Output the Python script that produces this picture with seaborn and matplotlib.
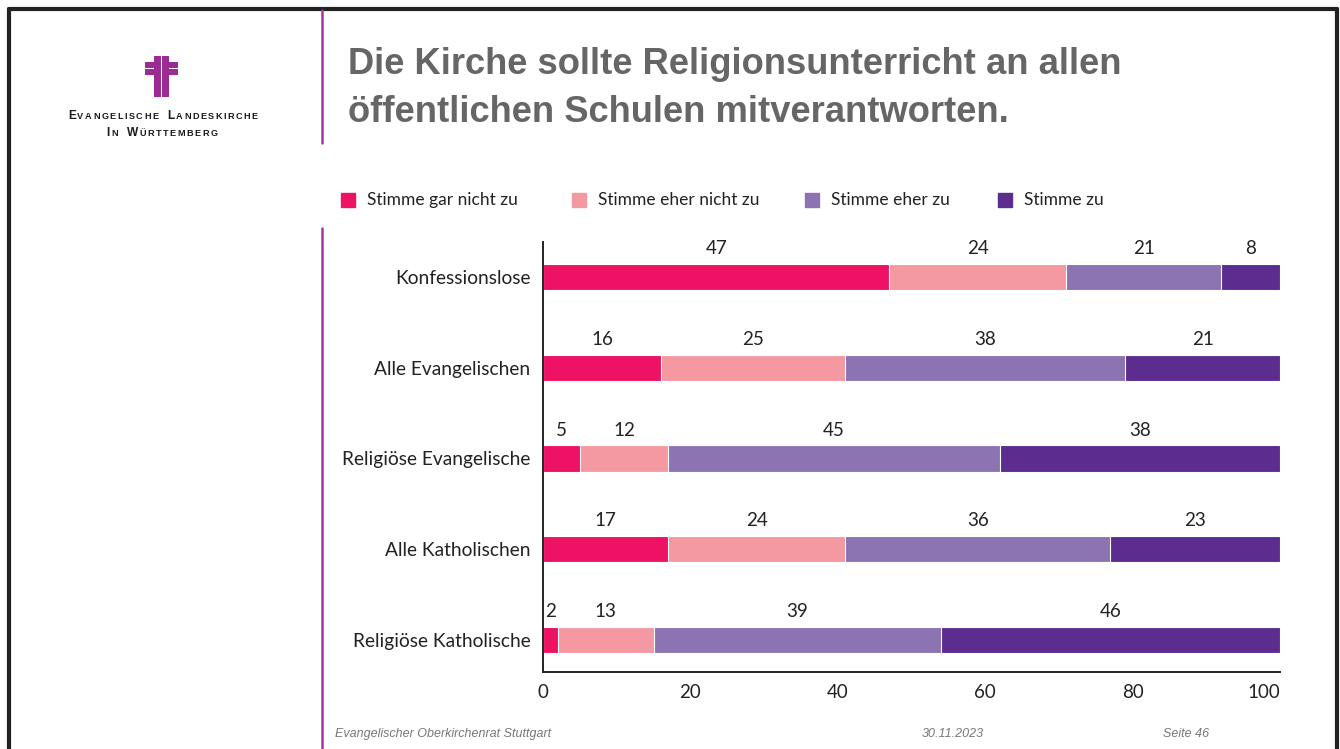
import numpy as np
import pandas as pd
import matplotlib
matplotlib.use("Agg")
import matplotlib.pyplot as plt
from matplotlib.patches import Rectangle
from matplotlib.lines import Line2D
import seaborn as sns

# ---- data ----
groups = ["Konfessionslose", "Alle Evangelischen", "Religiöse Evangelische",
          "Alle Katholischen", "Religiöse Katholische"]
answers = ["Stimme gar nicht zu", "Stimme eher nicht zu", "Stimme eher zu", "Stimme zu"]
gar_nicht = [47, 16, 5, 17, 2]
eher_nicht = [24, 25, 12, 24, 13]
eher_zu = [21, 38, 45, 36, 39]
zu = [8, 21, 38, 23, 46]
xticks = [0, 20, 40, 60, 80, 100]

colors = ["#EE1265", "#F499A1", "#8C74B2", "#5C2D8F"]

title_lines = ["Die Kirche sollte Religionsunterricht an allen",
               "öffentlichen Schulen mitverantworten."]
footer_left = "Evangelischer Oberkirchenrat Stuttgart"
footer_date = "30.11.2023"
footer_page = "Seite 46"

sns.set_style("white")
plt.rcParams["font.family"] = ["Lato", "DejaVu Sans"]

W, H = 1340, 749
fig = plt.figure(figsize=(W / 100, H / 100), dpi=100)


def fx(px):
    return px / W


def fy(py):
    return 1 - py / H


ax = fig.add_axes([fx(543), fy(672), fx(1280) - fx(543), fy(242) - fy(672)])

series = [gar_nicht, eher_nicht, eher_zu, zu]
cum = np.cumsum(np.array(series), axis=0)  # shape (4, n)

bar_h = 0.287
# stacked bars: draw cumulative totals from the largest down
for k in range(3, -1, -1):
    d = pd.DataFrame({"group": groups, "value": cum[k]})
    sns.barplot(data=d, x="value", y="group", orient="h", color=colors[k],
                width=bar_h, edgecolor="white", linewidth=0.8, ax=ax,
                saturation=1)

# value labels above each segment
for k in range(4):
    starts = cum[k] - np.array(series[k])
    for i, v in enumerate(series[k]):
        ax.text(starts[i] + v / 2, i - bar_h / 2 - 0.075, str(v),
                ha="center", va="bottom", fontsize=13.5, color="#222222")

ax.set_xlim(0, 100)
ax.set_ylim(4.353, -0.386)
ax.set_xticks(xticks)
ax.set_xticklabels([str(t) for t in xticks])
ax.set_xlabel("")
ax.set_ylabel("")
ax.tick_params(axis="both", length=0, labelsize=13.5, colors="#222222")
ax.tick_params(axis="x", pad=9)
ax.tick_params(axis="y", pad=9, labelsize=13.8)
ax.get_xticklabels()[-1].set_ha("right")
for s in ["top", "right"]:
    ax.spines[s].set_visible(False)
for s in ["left", "bottom"]:
    ax.spines[s].set_color("#222222")
    ax.spines[s].set_linewidth(1.4)
ax.set_facecolor("none")

# legend
leg_sq = [341, 572, 805, 998]
for k, name in enumerate(answers):
    fig.patches.append(Rectangle((fx(leg_sq[k]), fy(207)), fx(14), 14 / H,
                                 transform=fig.transFigure, color=colors[k]))
    fig.text(fx(leg_sq[k] + 26), fy(200), name, fontsize=12.5, color="#222222",
             va="center", ha="left")

# title
title_kw = dict(fontsize=26.2, fontweight="bold", color="#666666",
                family=["Liberation Sans", "DejaVu Sans"], va="center", ha="left")
fig.text(fx(348), fy(64), title_lines[0], **title_kw)
fig.text(fx(348), fy(112), title_lines[1], **title_kw)

# page frame
frame_kw = dict(color="#222222", linewidth=3, transform=fig.transFigure)
fig.lines.append(Line2D([fx(9), fx(9)], [fy(9), 0], **frame_kw))
fig.lines.append(Line2D([fx(9), fx(1337)], [fy(9), fy(9)], **frame_kw))
fig.lines.append(Line2D([fx(1337), fx(1337)], [fy(9), 0], **frame_kw))

# magenta separators
sep_kw = dict(color="#A8359F", linewidth=1.8, transform=fig.transFigure)
fig.lines.append(Line2D([fx(322), fx(322)], [fy(10), fy(143)], **sep_kw))
fig.lines.append(Line2D([fx(322), fx(322)], [fy(228), 0], **sep_kw))

# church cross emblem
cross_c = "#9B2C93"
for (x0, y0, w, h) in [(154, 56, 7, 41), (162, 56, 7, 41),
                       (145, 62, 33, 6), (145, 69, 33, 6)]:
    fig.patches.append(Rectangle((fx(x0), fy(y0 + h)), fx(w), h / H,
                                 transform=fig.transFigure, color=cross_c, lw=0))
# vertical white gap through the horizontal beam
fig.patches.append(Rectangle((fx(161), fy(97)), fx(1), 41 / H,
                             transform=fig.transFigure, color="white", lw=0))

# organisation name in small caps with tracking
renderer = fig.canvas.get_renderer()


def small_caps(text, x_center, y, big=8.6, small=6.6, track=1.5):
    items = []
    for word in text.split(" "):
        for j, ch in enumerate(word):
            items.append((ch.upper(), big if j == 0 else small))
        items.append((" ", small))
    items = items[:-1]
    widths = []
    objs = []
    for ch, size in items:
        t = fig.text(0, 0, ch if ch != " " else "n", fontsize=size,
                     family=["Liberation Sans", "DejaVu Sans"], color="#1a1a1a",
                     fontweight="semibold")
        widths.append(t.get_window_extent(renderer).width)
        objs.append(t)
    total = sum(widths) + track * (len(items) - 1)
    x = x_center - total / 2
    for (ch, size), t, w in zip(items, objs, widths):
        if ch == " ":
            t.remove()
        else:
            t.set_position((fx(x), fy(y)))
            t.set_va("baseline")
        x += w + track


small_caps("Evangelische Landeskirche", 163, 119)
small_caps("In Württemberg", 162, 136)

# footer
foot_kw = dict(fontsize=9, style="italic", color="#777777",
               family=["Liberation Sans Narrow", "Liberation Sans", "DejaVu Sans"],
               va="center")
fig.text(fx(335), fy(734), footer_left, ha="left", **foot_kw)
fig.text(fx(953), fy(734), footer_date, ha="center", **foot_kw)
fig.text(fx(1186), fy(734), footer_page, ha="center", **foot_kw)

fig.savefig("out.png", dpi=100)
